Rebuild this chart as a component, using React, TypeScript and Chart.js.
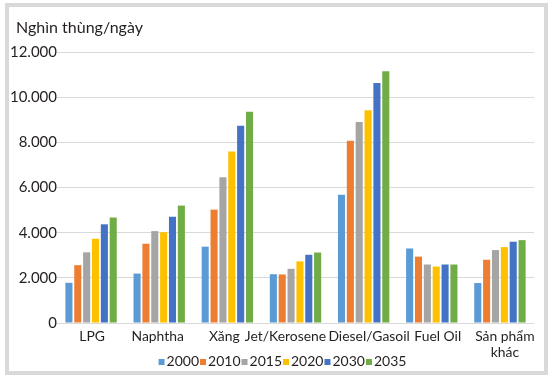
import React, { useEffect, useRef } from "react";
import { Chart, registerables } from "chart.js";

Chart.register(...registerables);

const categories: (string | string[])[] = [
  "LPG",
  "Naphtha",
  "Xăng",
  "Jet/Kerosene",
  "Diesel/Gasoil",
  "Fuel Oil",
  ["Sản phẩm", "khác"],
];
const seriesNames = ["2000", "2010", "2015", "2020", "2030", "2035"];
const s2000 = [1780, 2190, 3380, 2160, 5680, 3300, 1770];
const s2010 = [2560, 3510, 5020, 2150, 8070, 2940, 2800];
const s2015 = [3130, 4070, 6450, 2400, 8900, 2590, 3230];
const s2020 = [3730, 4020, 7590, 2730, 9420, 2500, 3360];
const s2030 = [4370, 4700, 8730, 3020, 10630, 2590, 3600];
const s2035 = [4670, 5200, 9350, 3120, 11150, 2590, 3670];
const yTicks = [0, 2000, 4000, 6000, 8000, 10000, 12000];
const yTitle = "Nghìn thùng/ngày";

// horizontal nudges of category labels (Excel shifts overlapping labels)
const labelNudge = [1, -1.5, -3, -10, 5.5, 6, 5];

const colors = ["#5B9BD5", "#ED7D31", "#A5A5A5", "#FFC000", "#4472C4", "#70AD47"];
const FONT = "Lato, 'Noto Sans', sans-serif";
const TEXT = "#231f20";

const fmt = (v: number) => v.toString().replace(/\B(?=(\d{3})+(?!\d))/g, ".");

const titlePlugin = {
  id: "yTitleText",
  afterDraw(chart: any) {
    const ctx = chart.ctx;
    ctx.save();
    ctx.font = `16px ${FONT}`;
    ctx.fillStyle = TEXT;
    ctx.textBaseline = "middle";
    ctx.textAlign = "left";
    ctx.fillText(yTitle, 16, 28);
    ctx.restore();
  },
};

const xLabelPlugin = {
  id: "xLabels",
  afterDraw(chart: any) {
    const ctx = chart.ctx;
    const xs = chart.scales.x;
    ctx.save();
    ctx.font = `13.9px ${FONT}`;
    ctx.fillStyle = TEXT;
    ctx.textBaseline = "middle";
    ctx.textAlign = "center";
    chart.data.labels.forEach((lab: any, i: number) => {
      const lines = Array.isArray(lab) ? lab : [lab];
      const cx = xs.getPixelForTick(i) + labelNudge[i];
      lines.forEach((ln: string, j: number) => {
        ctx.fillText(ln, cx, 337 + j * 16);
      });
    });
    ctx.restore();
  },
};

const legendPlugin = {
  id: "tightLegend",
  afterDraw(chart: any) {
    const ctx = chart.ctx;
    ctx.save();
    ctx.font = `14px ${FONT}`;
    ctx.textBaseline = "middle";
    ctx.textAlign = "left";
    const box = 6;
    const gapBox = 2;
    const gapItem = 1;
    const ds = chart.data.datasets;
    let total = 0;
    ds.forEach((d: any) => {
      total += box + gapBox + ctx.measureText(d.label).width + gapItem;
    });
    let x = 283 - total / 2;
    const y = 361;
    ds.forEach((d: any) => {
      ctx.fillStyle = d.backgroundColor;
      ctx.fillRect(x, y - box / 2 + 1, box, box);
      x += box + gapBox;
      ctx.fillStyle = TEXT;
      ctx.fillText(d.label, x, y);
      x += ctx.measureText(d.label).width + gapItem;
    });
    ctx.restore();
  },
};

export default function App() {
  const ref = useRef<HTMLCanvasElement>(null);
  useEffect(() => {
    const series = [s2000, s2010, s2015, s2020, s2030, s2035];
    const chart = new Chart(ref.current!, {
      type: "bar",
      data: {
        labels: categories,
        datasets: series.map((s, i) => ({
          label: seriesNames[i],
          data: s,
          backgroundColor: colors[i],
          barPercentage: 0.8,
          categoryPercentage: 0.78,
        })),
      },
      options: {
        animation: false,
        responsive: false,
        maintainAspectRatio: false,
        layout: { padding: { left: 0, right: 16, top: 52, bottom: 0 } },
        plugins: {
          legend: { display: false },
          tooltip: { enabled: false },
          title: { display: false },
        },
        scales: {
          x: {
            grid: { display: false },
            border: { display: false },
            ticks: { display: false },
            afterFit: (scale: any) => {
              scale.height = 53;
            },
          },
          y: {
            min: 0,
            max: 12000,
            afterBuildTicks: (scale: any) => {
              scale.ticks = yTicks.map((v) => ({ value: v }));
            },
            grid: { color: "#d9d9d9", lineWidth: 1, drawTicks: false },
            border: { display: false },
            ticks: {
              color: TEXT,
              font: { family: FONT, size: 15 },
              padding: 0,
              callback: (v: any) => fmt(Number(v)),
            },
            afterFit: (scale: any) => {
              scale.width = 57;
            },
          },
        },
      },
      plugins: [titlePlugin, xLabelPlugin, legendPlugin],
    });
    return () => chart.destroy();
  }, []);
  return (
    <div style={{ position: "fixed", left: 0, top: 0, width: 550, height: 376, background: "#fff" }}>
      <div
        style={{
          position: "absolute",
          left: 5,
          top: 3,
          width: 543,
          height: 372,
          border: "4px solid #d9d9d9",
          boxSizing: "border-box",
        }}
      />
      <canvas ref={ref} width={550} height={376} style={{ position: "absolute", left: 0, top: 0 }} />
    </div>
  );
}
